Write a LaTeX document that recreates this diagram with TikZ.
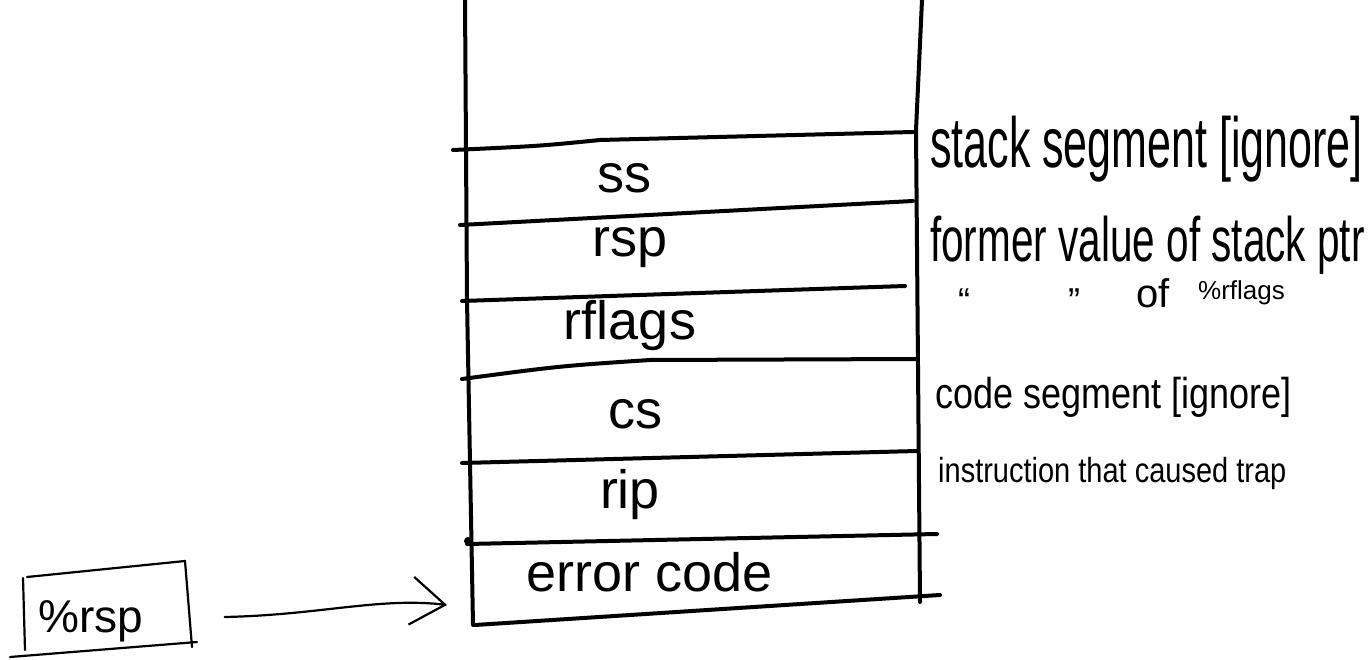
\documentclass[tikz,border=0pt]{standalone}
\usepackage{fontspec}
\setmainfont{Liberation Sans}
\usetikzlibrary{arrows.meta}
\begin{document}
\begin{tikzpicture}[x=1pt,y=-1pt,
  ink/.style={line width=4pt, line cap=round, line join=round},
  thinink/.style={line width=2.2pt, line cap=round, line join=round},
  lbl/.style={anchor=base, inner sep=0pt, font=\fontsize{54}{60}\selectfont},
  note/.style={anchor=base west, inner sep=0pt}]
\useasboundingbox (0,0) rectangle (1371,660);
% stack outline
\draw[ink] (465,0) -- (467,300) -- (473,625);
\draw[ink] (922,0) -- (916,130) -- (920,602);
% row separators
\draw[ink] (453,150) .. controls (540,146) .. (600,140) -- (913,132);
\draw[ink] (460,225) -- (913,201);
\draw[ink] (462,301) -- (905,286);
\draw[ink] (462,379) .. controls (560,366) .. (650,360) -- (918,359);
\draw[ink] (462,463) -- (917,451);
\draw[ink] (467,544) -- (937,534);
\fill (468,541) circle (4);
\draw[ink] (475,625) -- (940,595);
% row labels
\node[lbl] (ss) at (624,193) {ss};
\node[lbl] (rsp) at (630,257) {rsp};
\node[lbl] (rflags) at (630,340) {rflags};
\node[lbl] (cs) at (635,428) {cs};
\node[lbl] (rip) at (630,508) {rip};
\node[lbl] (err) at (650,591) {error code};
\coordinate (errin) at (447,605);
% notes
\node[note, font=\fontsize{43}{48}\selectfont] (n1) at (930,168) {\scalebox{1}[1.65]{stack segment [ignore]}};
\node[note, font=\fontsize{40.5}{46}\selectfont] (n2) at (930,262) {\scalebox{1}[1.55]{former value of stack ptr}};
\node[note, font=\fontsize{36}{40}\selectfont] (q1) at (958,314) {“};
\node[note, font=\fontsize{36}{40}\selectfont] (q2) at (1068,314) {”};
\node[note, font=\fontsize{40}{44}\selectfont] (of) at (1136,308) {of};
\node[note, font=\fontsize{26}{30}\selectfont] (rf) at (1198,300) {\%rflags};
\node[note, font=\fontsize{36}{40}\selectfont] (n4) at (935,408) {\scalebox{1}[1.2]{code segment [ignore]}};
\node[note, font=\fontsize{29}{33}\selectfont] (n5) at (938,482) {\scalebox{1}[1.2]{instruction that caused trap}};
% %rsp register box
\node[inner sep=0pt, minimum width=165pt, minimum height=78pt] (reg) at (106,606) {};
\node[anchor=base west, inner sep=0pt, font=\fontsize{46}{50}\selectfont] (regtxt) at (38,632) {\%rsp};
\draw[thinink] (27,577) -- (185,561) -- (192,647);
\draw[thinink] (23,578) -- (25,650);
\draw[thinink] (10,657) -- (197,642);
\draw[thinink, -{Straight Barb[length=34pt, width=48pt, line width=2.2pt]}] (reg.east) ++(36,11) .. controls (320,615) and (380,597) .. (errin);
\end{tikzpicture}
\end{document}
